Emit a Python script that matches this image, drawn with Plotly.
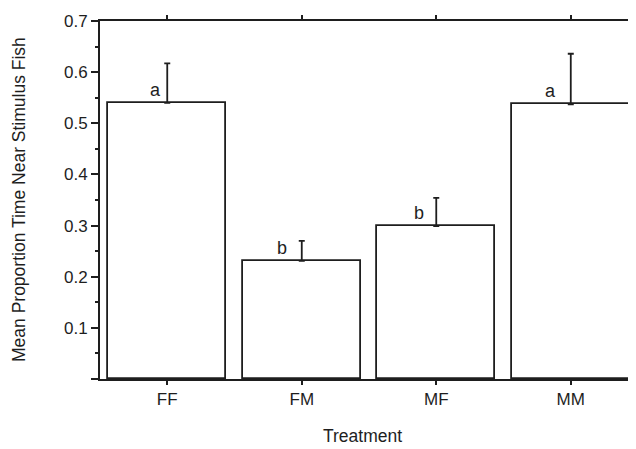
import plotly.graph_objects as go

categories = ["FF", "FM", "MF", "MM"]
means = [0.540, 0.231, 0.299, 0.537]
errors = [0.077, 0.039, 0.055, 0.099]
letters = ["a", "b", "b", "a"]
letter_dx = [-0.09, -0.15, -0.13, -0.15]
y_tickvals = [0, 0.1, 0.2, 0.3, 0.4, 0.5, 0.6, 0.7]
y_ticktext = ["", "0.1", "0.2", "0.3", "0.4", "0.5", "0.6", "0.7"]

ink = "#1e1e1e"
font_family = "Liberation Sans, Arial"
xpos = list(range(len(categories)))

fig = go.Figure()
fig.add_trace(go.Bar(
    x=xpos, y=means, width=0.875,
    marker=dict(color="white", line=dict(color=ink, width=1.8)),
    error_y=dict(type="data", array=errors, arrayminus=[0]*len(errors),
                 symmetric=False, color=ink, thickness=1.8, width=3),
    showlegend=False, hoverinfo="skip",
))

for xi, m, l, dx in zip(xpos, means, letters, letter_dx):
    fig.add_annotation(x=xi + dx, y=m + 0.026, text=l, showarrow=False,
                       font=dict(size=18, color=ink, family=font_family),
                       xanchor="center", yanchor="middle")

fig.add_annotation(xref="paper", yref="paper", x=0, y=0.5, xshift=-81,
                   text="Mean Proportion Time Near Stimulus Fish", textangle=-90,
                   showarrow=False, font=dict(size=17.5, color=ink, family=font_family),
                   xanchor="center", yanchor="middle")
fig.add_annotation(xref="paper", yref="paper", x=0, y=0, xshift=262, yshift=-69,
                   text="Treatment", showarrow=False,
                   font=dict(size=17.5, color=ink, family=font_family),
                   xanchor="center", yanchor="bottom")

# page body has an 8px margin, so the figure is shifted by 8px; compensate
fig.update_layout(
    width=628, height=441,
    margin=dict(l=92, r=0, t=13, b=70),
    paper_bgcolor="white", plot_bgcolor="white",
    font=dict(family=font_family, color=ink, size=17),
    bargap=0,
    xaxis=dict(range=[-0.5, 3.485], tickvals=xpos, ticktext=categories,
               showline=True, linecolor=ink, linewidth=1.8, mirror="ticks",
               ticks="outside", ticklen=4, tickwidth=1.5, tickcolor=ink,
               showgrid=False, zeroline=False, tickfont=dict(size=17)),
    yaxis=dict(range=[0, 0.7], tickvals=y_tickvals, ticktext=y_ticktext,
               showline=True, linecolor=ink, linewidth=1.8,
               ticks="outside", ticklen=7, tickwidth=1.5, tickcolor=ink,
               minor=dict(tick0=0, dtick=0.05, ticks="outside", ticklen=3,
                          tickwidth=1.5, tickcolor=ink, showgrid=False),
               showgrid=False, zeroline=False, tickfont=dict(size=17)),
)

fig.write_html("out.html")
